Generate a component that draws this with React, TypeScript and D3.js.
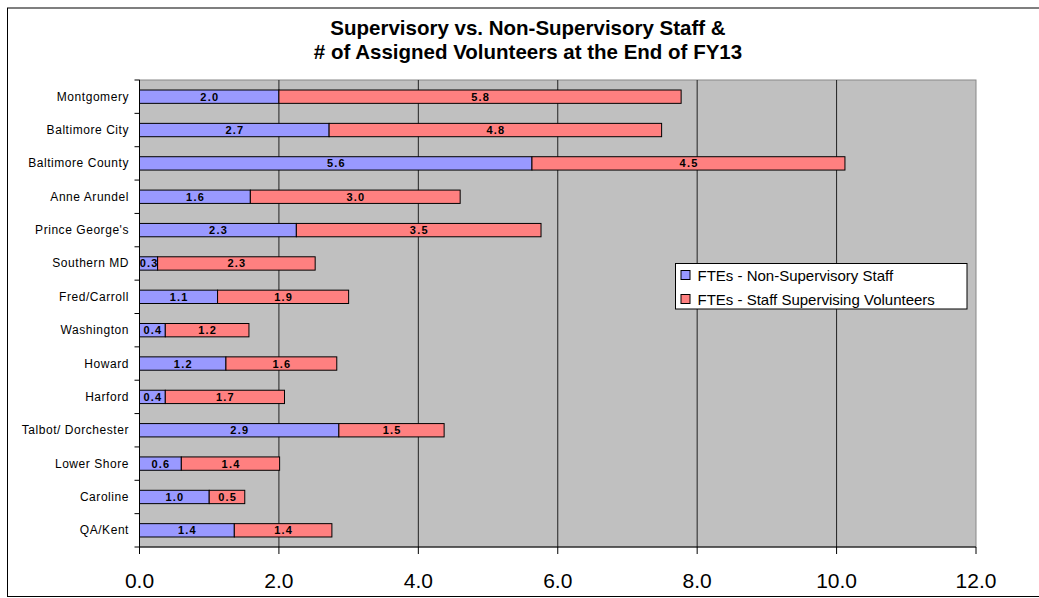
import React from "react";
import { scaleLinear, scaleBand } from "d3";

const regions = [
  "Montgomery",
  "Baltimore City",
  "Baltimore County",
  "Anne Arundel",
  "Prince George's",
  "Southern MD",
  "Fred/Carroll",
  "Washington",
  "Howard",
  "Harford",
  "Talbot/ Dorchester",
  "Lower Shore",
  "Caroline",
  "QA/Kent",
];
const nonSupervisory = [2.0, 2.72, 5.63, 1.59, 2.25, 0.26, 1.12, 0.37, 1.24, 0.37, 2.86, 0.6, 1.0, 1.36];
const supervising = [5.77, 4.77, 4.49, 3.01, 3.51, 2.26, 1.88, 1.2, 1.59, 1.71, 1.51, 1.41, 0.51, 1.4];
const xTicks = [0, 2, 4, 6, 8, 10, 12];
const seriesNames = ["FTEs - Non-Supervisory Staff", "FTEs - Staff Supervising Volunteers"];
const seriesColors = ["#9999FF", "#FF8080"];

const W = 1039;
const H = 598;
const font = "'Liberation Sans', Arial, sans-serif";

const App = () => {
  const plot = { left: 139.5, right: 976, top: 80, bottom: 547 };
  const x = scaleLinear().domain([0, 12]).range([plot.left, plot.right]);
  const y = scaleBand<string>()
    .domain(regions)
    .range([plot.top, plot.bottom])
    .paddingInner(0.6)
    .paddingOuter(0.3);
  const step = y.step();
  const bandEdges = regions.map((_, i) => plot.top + i * step).concat([plot.bottom]);

  const bars = regions.map((r, i) => {
    const segs = [
      { v: nonSupervisory[i], x0: 0, c: seriesColors[0] },
      { v: supervising[i], x0: nonSupervisory[i], c: seriesColors[1] },
    ];
    return (
      <g key={r}>
        {segs.map((s, j) => (
          <g key={j}>
            <rect
              x={x(s.x0)}
              y={y(r)}
              width={x(s.x0 + s.v) - x(s.x0)}
              height={y.bandwidth()}
              fill={s.c}
              stroke="#000"
              strokeWidth={1}
            />
            <text
              x={(x(s.x0) + x(s.x0 + s.v)) / 2 + 0.6}
              y={(y(r) as number) + y.bandwidth() / 2 + 4}
              textAnchor="middle"
              fontSize="11px"
              fontWeight="bold"
              letterSpacing="1.2"
              fill="#000"
            >
              {s.v.toFixed(1)}
            </text>
          </g>
        ))}
      </g>
    );
  });

  return (
    <svg
      width={W}
      height={H}
      viewBox={`0 0 ${W} ${H}`}
      style={{ position: "absolute", left: 0, top: 0, display: "block", background: "#fff" }}
      fontFamily={font}
    >
      <rect x={7.5} y={8} width={W + 10} height={588.5} fill="#fff" stroke="#000" strokeWidth={1} />
      <text x={528} y={34.5} textAnchor="middle" fontSize="20.5px" fontWeight="bold">
        Supervisory vs. Non-Supervisory Staff &amp;
      </text>
      <text x={528} y={58.5} textAnchor="middle" fontSize="20.5px" fontWeight="bold">
        # of Assigned Volunteers at the End of FY13
      </text>

      <rect
        x={plot.left}
        y={plot.top}
        width={plot.right - plot.left}
        height={plot.bottom - plot.top}
        fill="#C0C0C0"
        stroke="#888"
        strokeWidth={1}
      />
      {xTicks.slice(1, -1).map((t) => (
        <line key={t} x1={x(t)} x2={x(t)} y1={plot.top} y2={plot.bottom} stroke="#222" strokeWidth={1} />
      ))}

      {bars}

      <line x1={plot.left} x2={plot.left} y1={plot.top} y2={plot.bottom} stroke="#000" />
      <line x1={plot.left} x2={plot.right} y1={plot.bottom} y2={plot.bottom} stroke="#000" />
      {bandEdges.map((e, i) => (
        <line key={i} x1={plot.left - 5} x2={plot.left} y1={e} y2={e} stroke="#000" />
      ))}
      {xTicks.map((t) => (
        <g key={t}>
          <line x1={x(t)} x2={x(t)} y1={plot.bottom} y2={plot.bottom + 7} stroke="#000" />
          <text x={x(t)} y={588} textAnchor="middle" fontSize="21px" fill="#000">
            {t.toFixed(1)}
          </text>
        </g>
      ))}
      {regions.map((r) => (
        <text
          key={r}
          x={129}
          y={(y(r) as number) + y.bandwidth() / 2 + 4}
          textAnchor="end"
          fontSize="12px"
          letterSpacing="0.55"
          fill="#000"
        >
          {r}
        </text>
      ))}

      <g transform="translate(675.5,263.5)">
        <rect width={291.5} height={45.5} fill="#fff" stroke="#000" strokeWidth={1} />
        {seriesNames.map((n, i) => (
          <g key={n} transform={`translate(0,${11.5 + i * 24})`}>
            <rect x={5.5} y={-4.5} width={9} height={9} fill={seriesColors[i]} stroke="#000" />
            <text x={22} y={5.5} fontSize="15px" fill="#000">
              {n}
            </text>
          </g>
        ))}
      </g>
    </svg>
  );
};

export default App;
